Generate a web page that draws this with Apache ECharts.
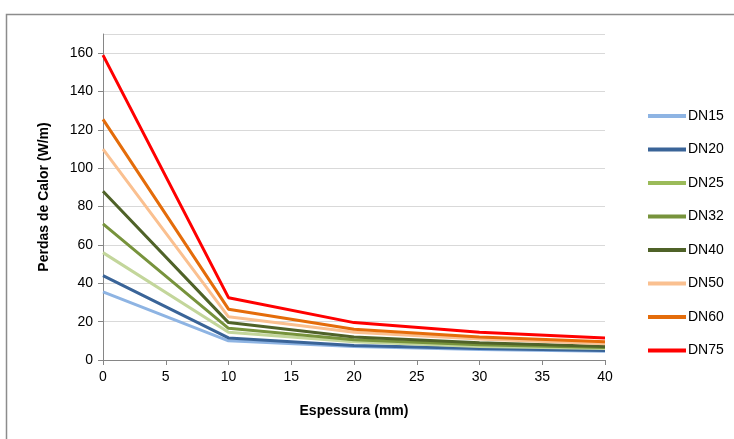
<!DOCTYPE html>
<html>
<head>
<meta charset="utf-8">
<script src="https://cdn.jsdelivr.net/npm/echarts@6/dist/echarts.min.js"></script>
<style>
  html, body { margin: 0; padding: 0; background: #fff; }
  #chart { width: 734px; height: 439px; }
</style>
</head>
<body>
<div id="chart"></div>
<script>
// espessura (mm)
const espessura = [0, 10, 20, 30, 40]
const seriesNames = ['DN15', 'DN20', 'DN25', 'DN32', 'DN40', 'DN50', 'DN60', 'DN75']
// perdas de calor (W/m)
const dn15 = [35.5, 10, 7, 5.5, 4.5]
const dn20 = [44, 11.5, 7.5, 6, 5]
const dn25 = [56, 14.5, 9.5, 7, 6]
const dn32 = [71, 16.5, 10.5, 8, 6.5]
const dn40 = [88, 19.5, 12, 9, 7]
const dn50 = [110, 22.5, 14.5, 11, 8.5]
const dn60 = [125.5, 26.5, 16, 12, 9.5]
const dn75 = [159, 32.5, 19.5, 14.5, 11.5]
const valores = [dn15, dn20, dn25, dn32, dn40, dn50, dn60, dn75]
const lineColors = ['#8eb4e3', '#3a6498', '#c3d69b', '#77933c', '#4f6228', '#fac090', '#e46c0a', '#ff0000']
const legendColors = ['#8eb4e3', '#3a6498', '#9bbb59', '#77933c', '#4f6228', '#fac090', '#e46c0a', '#ff0000']

const myChart = echarts.init(document.getElementById('chart'))

let series = seriesNames.map((name, i) => ({
    type: 'line',
    name: name,
    data: espessura.map((x, j) => [x, valores[i][j]]),
    showSymbol: false,
    symbol: 'none',
    lineStyle: { color: lineColors[i], width: 3 },
    itemStyle: { color: legendColors[i] },
}))

let option = {
    animation: false,
    textStyle: { fontFamily: 'Liberation Sans' },
    graphic: [
        {
            type: 'rect',
            shape: { x: 6.5, y: 14.5, width: 740, height: 440 },
            style: { fill: 'none', stroke: '#8c8c8c', lineWidth: 1.5 },
            silent: true,
        },
    ],
    legend: {
        orient: 'vertical',
        left: 643,
        top: 104,
        icon: 'rect',
        itemWidth: 38,
        itemHeight: 4,
        itemGap: 19.5,
        textStyle: { fontSize: 14, color: '#000', padding: [0, 0, 0, -3] },
        data: seriesNames,
    },
    grid: {
        left: 103,
        right: 129,
        top: 34,
        bottom: 79,
    },
    xAxis: {
        type: 'value',
        min: 0,
        max: 40,
        interval: 5,
        name: 'Espessura (mm)',
        nameLocation: 'middle',
        nameGap: 44,
        nameTextStyle: { fontSize: 14, fontWeight: 'bold', color: '#000' },
        axisLine: { lineStyle: { color: '#868686', width: 1 } },
        axisTick: { show: true, length: 5, lineStyle: { color: '#868686' } },
        axisLabel: { fontSize: 14, color: '#000', margin: 10 },
        splitLine: { show: false },
    },
    yAxis: {
        type: 'value',
        min: 0,
        max: 170,
        interval: 20,
        name: 'Perdas de Calor (W/m)',
        nameLocation: 'middle',
        nameGap: 52,
        nameTextStyle: { fontSize: 14, fontWeight: 'bold', color: '#000' },
        axisLine: { show: true, lineStyle: { color: '#868686', width: 1 } },
        axisTick: { show: true, length: 5, lineStyle: { color: '#868686' } },
        axisLabel: { fontSize: 14, color: '#000', margin: 10, showMaxLabel: false },
        splitLine: { show: true, lineStyle: { color: '#d9d9d9', width: 1 } },
    },
    series: series,
}
myChart.setOption(option)
</script>
</body>
</html>
